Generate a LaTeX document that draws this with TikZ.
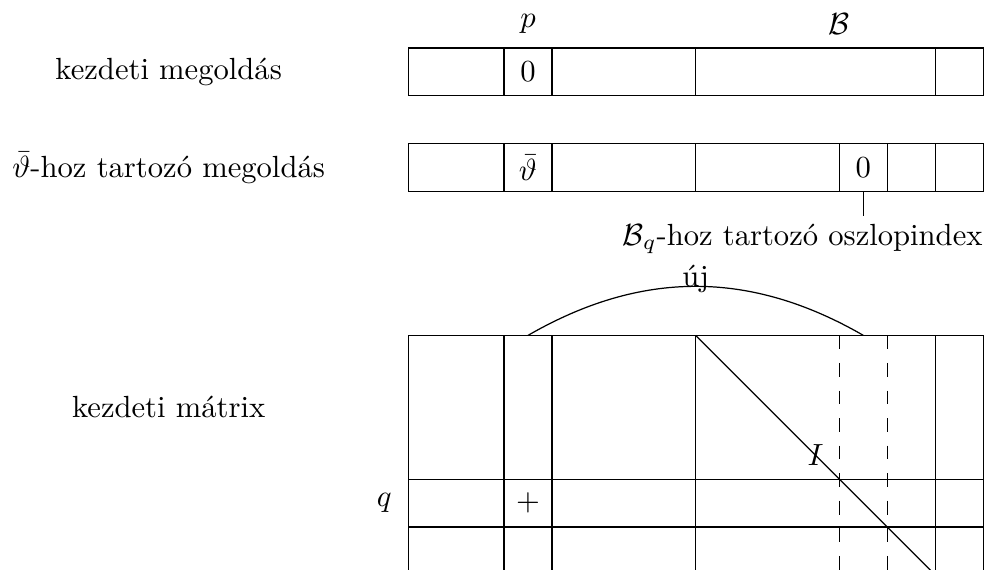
\documentclass[tikz,border=0pt]{standalone}
\usepackage{amsmath,amssymb}
\usepackage{tikz}
\usetikzlibrary{calc,positioning}

\begin{document}
\begin{tikzpicture}[x=0.55cm,y=0.55cm,
    idxline/.style={dash pattern=on 4.5pt off 4.5pt},
    lbl/.style={inner sep=0pt}]
    \clip (-8.52,-4.88) rectangle (12.31,7.0);
    % kezdeti megoldas
    \draw (0,5) rectangle (12,6);
    \foreach \x in {2,3,6,11}{%
      \draw (\x,5) -- (\x,6);
    }
    \node (p) at (2.5,6.5) {$p$};
    \node (bazis) at (9,6.5) {$\mathcal{B}$};
    \node (nulla1) at (2.5,5.5) {$0$};
    \node (kezdmo) at (-5,5.5) {kezdeti megoldás};
    % theta-hoz tartozo megoldas
    \draw (0,3) rectangle (12,4);
    \foreach \x in {2,3,6,9,10,11}{%
      \draw (\x,3) -- (\x,4);
    }
    \node (theta) at (2.5,3.5) {$\bar{\vartheta}$};
    \node (nulla2) at (9.5,3.5) {$0$};
    \node (thetamo) at (-5,3.5) {$\bar{\vartheta}$-hoz tartozó megoldás};
    \coordinate (nulla2s) at (9.5,3);
    \coordinate (oszlvege) at (9.5,2.5);
    \draw (nulla2s) -- (oszlvege);
    \node[lbl,anchor=base east] (oszl) at (12,1.88) {$\mathcal{B}_q$-hoz tartozó oszlopindex};
    % kezdeti matrix
    \draw (0,-5) -- (0,0) -- (12,0) -- (12,-5);
    \foreach \y in {-3,-4}{%
      \draw (0,\y) -- (12,\y);
    }
    \foreach \x in {2,3,6,11}{%
      \draw (\x,0) -- (\x,-5);
    }
    \foreach \x in {9,10}{%
      \draw[idxline] (\x,0) -- (\x,-5);
    }
    \coordinate (diagA) at (6,0);
    \coordinate (diagB) at (11,-5);
    \draw (diagA) -- (diagB);
    \node (egys) at (8.5,-2.5) {$I$};
    \node (plusz) at (2.5,-3.5) {$+$};
    \node (q) at (-0.5,-3.5) {$q$};
    \node (kezdma) at (-5,-1.5) {kezdeti mátrix};
    % uj oszlop
    \coordinate (ujA) at (2.5,0);
    \coordinate (ujB) at (9.5,0);
    \draw (ujA) to[bend left=30] node[lbl,anchor=base] (uj) {új} (ujB);
\end{tikzpicture}
\end{document}
